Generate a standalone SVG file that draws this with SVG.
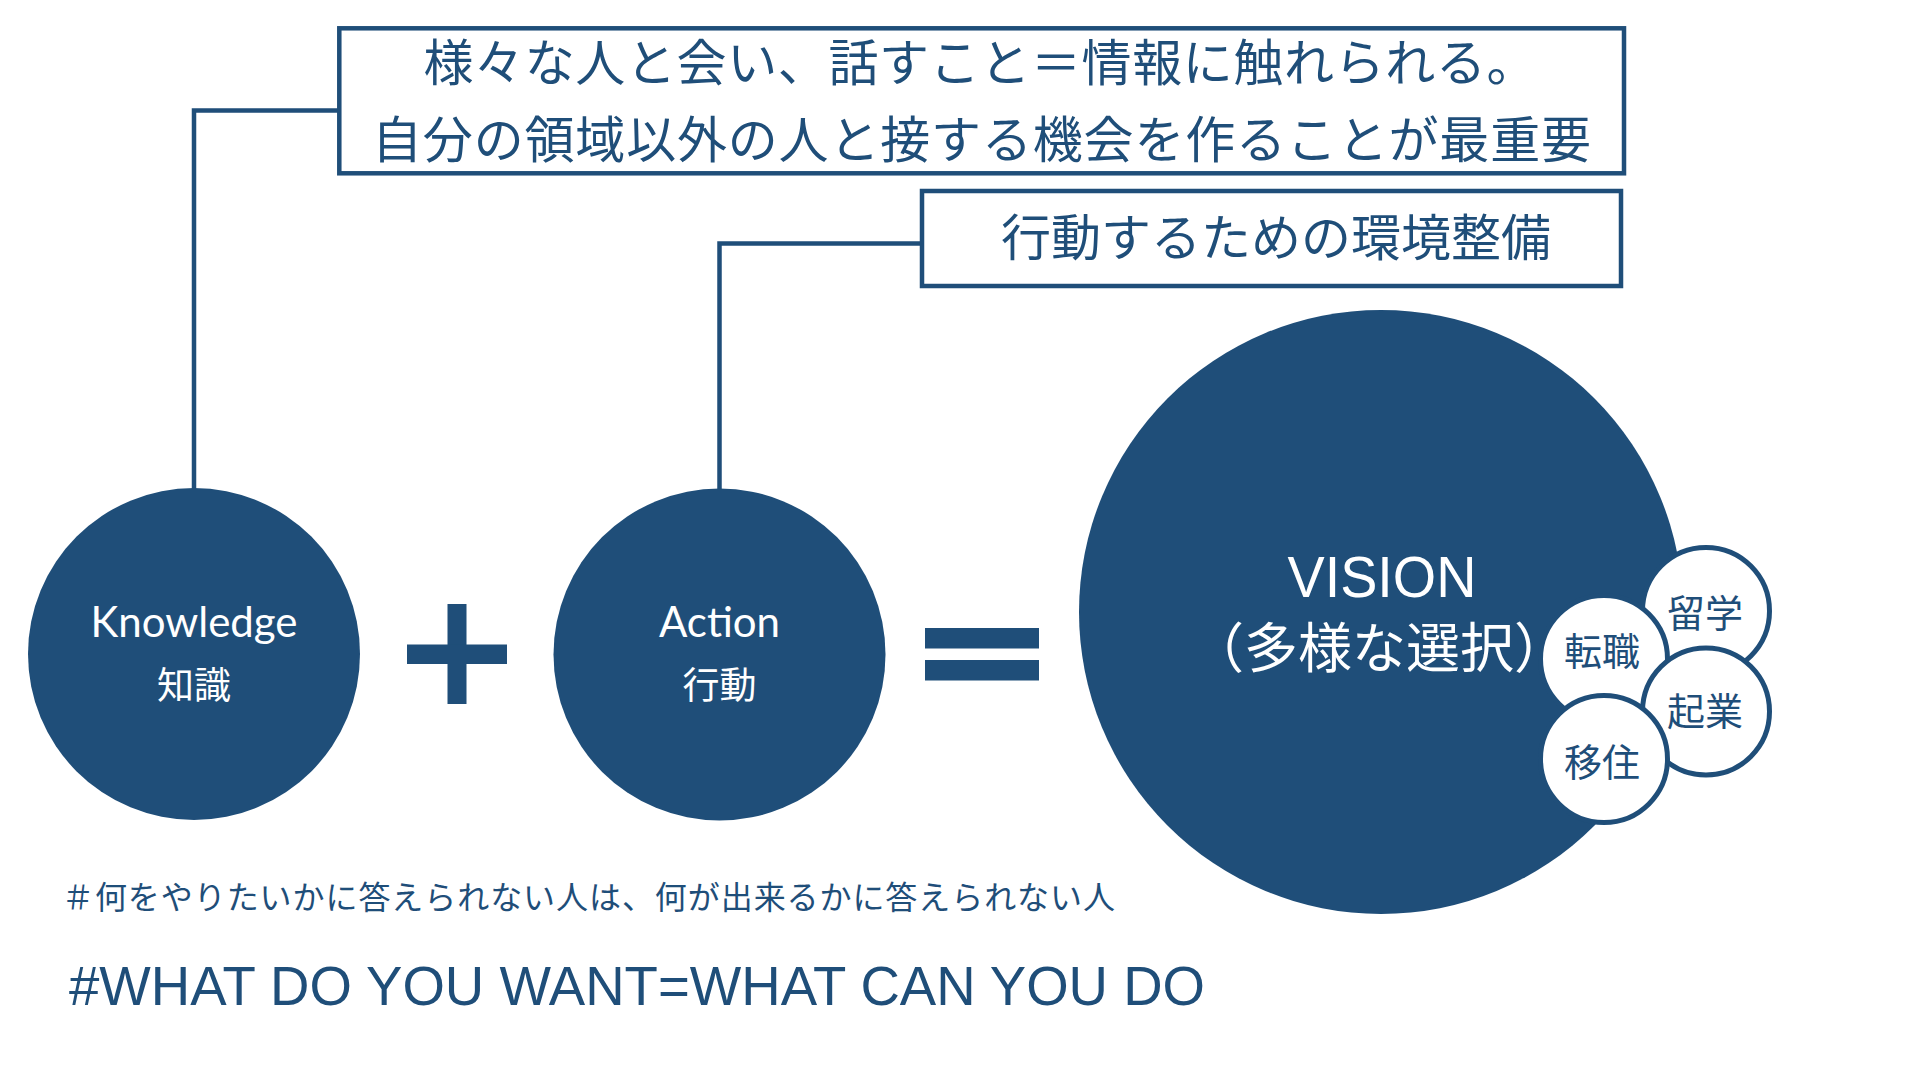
<svg xmlns="http://www.w3.org/2000/svg" width="1920" height="1080" viewBox="0 0 1920 1080">
<style>
.ln{fill:none;stroke:#1F4E79;stroke-width:4.5}
.box{fill:#fff;stroke:#1F4E79;stroke-width:4.5}
.big{fill:#1F4E79}
.small{fill:#fff;stroke:#1F4E79;stroke-width:5}
.jp{font-family:"Noto Sans CJK JP","Noto Sans CJK SC",sans-serif}
.lat{font-family:Lato,"Liberation Sans",sans-serif}
.hel{font-family:"Liberation Sans",Arial,sans-serif}
.blue{fill:#1F4E79}
.white{fill:#fff}
</style>
<rect width="1920" height="1080" fill="#fff"/>
<g id="connectors">
<polyline class="ln" points="339,110.5 194,110.5 194,490"/>
<polyline class="ln" points="922,243.5 719.5,243.5 719.5,490"/>
</g>
<g id="note-knowledge">
<rect class="box" x="339.3" y="28.3" width="1284.7" height="145"/>
<text class="jp blue" x="980" y="81" font-size="50" text-anchor="middle" textLength="1113" lengthAdjust="spacing">様々な人と会い、話すこと＝情報に触れられる。</text>
<text class="jp blue" x="981.5" y="158" font-size="50" text-anchor="middle" textLength="1219" lengthAdjust="spacing">自分の領域以外の人と接する機会を作ることが最重要</text>
</g>
<g id="note-action">
<rect class="box" x="922" y="191" width="699" height="95"/>
<text class="jp blue" x="1276" y="256" font-size="50" text-anchor="middle" textLength="550" lengthAdjust="spacing">行動するための環境整備</text>
</g>
<g id="knowledge">
<circle class="big" cx="194" cy="654" r="166"/>
<text class="lat white" x="194" y="637" font-size="42" text-anchor="middle">Knowledge</text>
<text class="jp white" x="194" y="699" font-size="37" text-anchor="middle">知識</text>
</g>
<g id="plus">
<rect class="big" x="447.5" y="604" width="19" height="100"/>
<rect class="big" x="407" y="644.5" width="100" height="19.5"/>
</g>
<g id="action">
<circle class="big" cx="719.5" cy="654.5" r="166"/>
<text class="lat white" x="719.5" y="637" font-size="42" text-anchor="middle">Action</text>
<text class="jp white" x="719.5" y="699" font-size="37" text-anchor="middle">行動</text>
</g>
<g id="equals">
<rect class="big" x="925" y="628" width="114" height="20.5"/>
<rect class="big" x="925" y="660" width="114" height="20.5"/>
</g>
<g id="vision">
<circle class="big" cx="1381" cy="612" r="302"/>
<text class="hel white" x="1382" y="597" font-size="58" text-anchor="middle" textLength="189" lengthAdjust="spacingAndGlyphs">VISION</text>
<text class="jp white" x="1379" y="668" font-size="54" text-anchor="middle">（多様な選択）</text>
</g>
<g id="ryugaku">
<circle class="small" cx="1706" cy="611" r="63.5"/>
<text class="jp blue" x="1705" y="627" font-size="38" text-anchor="middle">留学</text>
</g>
<g id="tenshoku">
<circle class="small" cx="1604" cy="659" r="63.5"/>
<text class="jp blue" x="1602" y="665" font-size="38" text-anchor="middle">転職</text>
</g>
<g id="kigyo">
<circle class="small" cx="1706" cy="711.5" r="63.5"/>
<text class="jp blue" x="1705" y="725" font-size="38" text-anchor="middle">起業</text>
</g>
<g id="iju">
<circle class="small" cx="1604" cy="759" r="63.5"/>
<text class="jp blue" x="1602" y="776" font-size="38" text-anchor="middle">移住</text>
</g>
<g id="captions">
<text class="jp blue" x="62" y="909" font-size="32" textLength="1053" lengthAdjust="spacing">＃何をやりたいかに答えられない人は、何が出来るかに答えられない人</text>
<text class="hel blue" x="69" y="1005" font-size="55" textLength="1136" lengthAdjust="spacingAndGlyphs">#WHAT DO YOU WANT=WHAT CAN YOU DO</text>
</g>
</svg>
